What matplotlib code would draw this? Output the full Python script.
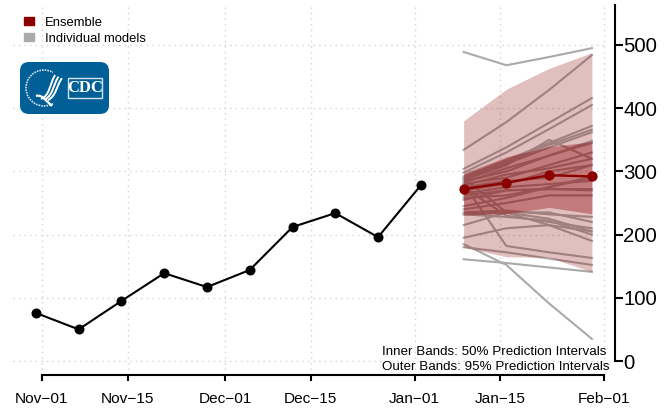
import datetime as dt
import matplotlib
matplotlib.use("Agg")
import matplotlib.pyplot as plt
import matplotlib.dates as mdates
from matplotlib.patches import FancyBboxPatch, Rectangle, Patch, Arc
from matplotlib.path import Path
from matplotlib.patches import PathPatch

plt.rcParams['font.family'] = ['Liberation Sans', 'DejaVu Sans']

obs_dates = [dt.date(2020,10,31)+dt.timedelta(days=7*i) for i in range(10)]
obs_values = [76, 50, 95, 139, 117, 144, 212, 234, 196, 278]
fc_dates = [dt.date(2021,1,9), dt.date(2021,1,16), dt.date(2021,1,23), dt.date(2021,1,30)]
ens_values = [272, 282, 294, 292]
outer_hi = [380, 430, 463, 488]
outer_lo = [180, 165, 164, 141]
inner_hi = [297, 323, 339, 347]
inner_lo = [231, 233, 243, 233]
models = [
    [489,468,481,495],[334,378,429,484],[304,338,377,416],[298,330,367,405],
    [292,318,345,372],[290,315,342,366],[288,312,338,362],[286,310,350,320],
    [284,300,325,348],[282,305,325,345],[280,290,310,330],[278,295,305,320],
    [275,285,290,310],[270,280,300,310],[265,275,280,285],[262,270,272,272],
    [258,262,275,292],[255,270,272,270],[245,258,275,290],[240,250,262,262],
    [235,238,232,228],[232,235,225,205],[215,235,235,220],[232,228,222,200],
    [195,210,215,190],[280,182,172,163],[180,172,162,152],[161,155,148,141],
    [185,152,91,35],[290,235,215,205],[275,230,220,210],
]
tick_dates = [dt.date(2020,11,1), dt.date(2020,11,15), dt.date(2020,12,1),
              dt.date(2020,12,15), dt.date(2021,1,1), dt.date(2021,1,15), dt.date(2021,2,1)]
tick_labels = ['Nov\u221201','Nov\u221215','Dec\u221201','Dec\u221215','Jan\u221201','Jan\u221215','Feb\u221201']
y_ticks = [0,100,200,300,400,500]
legend_labels = ['Ensemble','Individual models']
note_lines = ['Inner Bands: 50% Prediction Intervals','Outer Bands: 95% Prediction Intervals']

W, H = 670, 411
DARK = '#8B0000'
GREY = '#AAAAAA'
fig = plt.figure(figsize=(W/100, H/100), dpi=100)
L, R, T, B = 13, 615, 5, 375
ax = fig.add_axes([L/W, 1-B/H, (R-L)/W, (B-T)/H])
ppd = 6.11
x0 = mdates.date2num(dt.date(2020,11,1))
ax.set_xlim(x0+(L-42)/ppd, x0+(R-42)/ppd)
ax.set_ylim((361-B)/0.632, (361-T)/0.632)
ax.patch.set_alpha(0)

grid = dict(color='#D2D2D2', lw=1.0, ls=(0,(1,3)), zorder=0)
xnum = [mdates.date2num(d) for d in tick_dates]
for y in y_ticks:
    ax.plot([ax.get_xlim()[0], xnum[-1]], [y,y], **grid)
for x in xnum:
    ax.plot([x,x], [ax.get_ylim()[0], 560], **grid)

for m in models:
    ax.plot(fc_dates, m, color=GREY, lw=1.5, zorder=1, solid_joinstyle='round')
ax.fill_between(fc_dates, outer_lo, outer_hi, color=DARK, alpha=0.25, lw=0, zorder=2)
ax.fill_between(fc_dates, inner_lo, inner_hi, color=DARK, alpha=0.36, lw=0, zorder=3)
ax.plot(obs_dates, obs_values, color='black', lw=1.5, marker='o', ms=7.2, mew=0, zorder=4)
ax.plot(fc_dates, ens_values, color=DARK, lw=1.7, marker='o', ms=7.4, mew=0, zorder=5)

for s in ['left','top']:
    ax.spines[s].set_visible(False)
ax.spines['right'].set_linewidth(1.5)
ax.spines['right'].set_bounds(0, ax.get_ylim()[1])
ax.spines['bottom'].set_linewidth(1.5)
ax.spines['bottom'].set_bounds(xnum[0], xnum[-1])
ax.yaxis.tick_right()
ax.set_yticks(y_ticks)
ax.tick_params(axis='y', length=6, width=1.5, labelsize=14.7, pad=0)
ax.set_xticks(xnum)
ax.set_xticklabels(tick_labels)
ax.tick_params(axis='x', length=4.5, width=1.5, labelsize=11.1, pad=7.5)

ax.legend(handles=[Patch(color=DARK), Patch(color=GREY)], labels=legend_labels,
          loc='upper left', bbox_to_anchor=(21/W, 1-14/H), bbox_transform=fig.transFigure,
          frameon=False, fontsize=9.4, handlelength=0.8, handleheight=0.62, handletextpad=0.85,
          labelspacing=0.32, borderpad=0.2, borderaxespad=0)

fig.text(382/W, 1-352/H, note_lines[0], fontsize=9.65, va='center', ha='left', zorder=6)
fig.text(382/W, 1-367/H, note_lines[1], fontsize=9.65, va='center', ha='left', zorder=6)

# logo, in pixel coordinates
lg = fig.add_axes([0,0,1,1], zorder=7)
lg.set_xlim(0,W); lg.set_ylim(H,0); lg.axis('off'); lg.patch.set_alpha(0)
BLUE = '#005F96'
lg.add_patch(FancyBboxPatch((20,62),89,52, boxstyle='round,pad=0,rounding_size=9', lw=0, fc=BLUE))
lg.add_patch(Arc((44,88),36,36, theta1=60, theta2=300, color='#CFE0EC', lw=1.2, ls=(0,(1,0.6))))
for dx,dy in [(0,0),(3.5,2),(7,4)]:
    p = Path([(41+dx,99+dy*0.3),(50+dx,95),(49+dx,86),(55+dx,75+dy*0.8)],
             [Path.MOVETO,Path.CURVE4,Path.CURVE4,Path.CURVE4])
    lg.add_patch(PathPatch(p, fc='none', ec='white', lw=1.4))
p = Path([(36,96),(42,94),(46,101),(52,106)],[Path.MOVETO,Path.CURVE4,Path.CURVE4,Path.CURVE4])
lg.add_patch(PathPatch(p, fc='none', ec='white', lw=1.6))
lg.add_patch(Rectangle((68,78),34,20, fc='none', ec='#D5E3EE', lw=1))
lg.text(85,87.5,'CDC', color='white', fontsize=12, fontweight='bold', family='Liberation Serif',
        ha='center', va='center')

fig.savefig('out.png', dpi=100)
